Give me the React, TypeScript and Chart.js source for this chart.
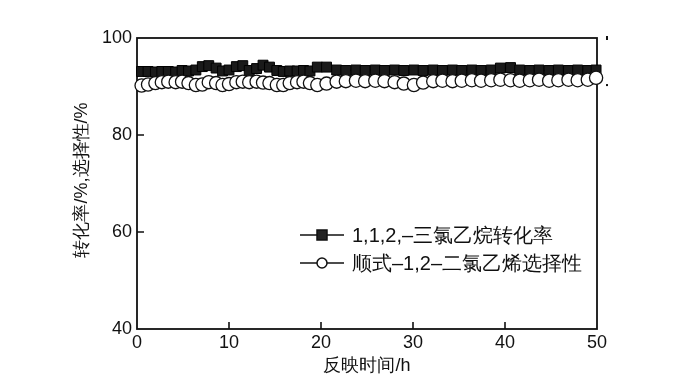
import React, { useEffect, useRef } from 'react';
import { Chart, registerables } from 'chart.js';

Chart.register(...registerables);

const times = [
  0.5, 1.2, 2.0, 2.7, 3.4, 4.2, 4.9, 5.6, 6.4, 7.1, 7.8, 8.6, 9.3, 10.0, 10.8, 11.5, 12.2, 13.0, 13.7, 14.4,
  15.2, 15.9, 16.6, 17.4, 18.1, 18.8, 19.6, 20.6, 21.7, 22.7, 23.8, 24.8, 25.9, 26.9, 28.0, 29.0, 30.1, 31.1,
  32.2, 33.2, 34.3, 35.3, 36.4, 37.4, 38.5, 39.5, 40.6, 41.6, 42.7, 43.7, 44.8, 45.8, 46.9, 47.9, 49.0, 49.9,
];

const conversion = [
  93.1, 93.1, 93.0, 93.1, 93.1, 93.0, 93.3, 93.2, 93.4, 94.1, 94.3, 93.8, 93.2, 93.4, 94.1, 94.3, 93.3, 93.7, 94.4, 94.0,
  93.3, 93.1, 93.2, 93.2, 93.3, 93.2, 94.0, 94.0, 93.4, 93.3, 93.4, 93.3, 93.4, 93.3, 93.4, 93.3, 93.4, 93.3,
  93.4, 93.3, 93.4, 93.3, 93.4, 93.3, 93.4, 93.8, 93.9, 93.4, 93.3, 93.4, 93.3, 93.4, 93.3, 93.4, 93.3, 93.4,
];

const selectivity = [
  90.2, 90.4, 90.7, 90.9, 91.0, 90.9, 91.0, 90.7, 90.3, 90.4, 90.9, 90.7, 90.3, 90.5, 90.9, 91.0, 90.9, 91.0, 90.8, 90.7,
  90.3, 90.3, 90.7, 90.9, 91.0, 90.7, 90.3, 90.6, 91.0, 91.1, 91.2, 91.1, 91.2, 91.1, 90.9, 90.6, 90.3, 90.8,
  91.1, 91.2, 91.1, 91.2, 91.3, 91.2, 91.3, 91.4, 91.3, 91.2, 91.3, 91.4, 91.2, 91.3, 91.4, 91.3, 91.4, 91.8,
];

const xTickValues = [0, 10, 20, 30, 40, 50];
const yTickValues = [40, 60, 80, 100];
const legendLabels = ['1,1,2,–三氯乙烷转化率', '顺式–1,2–二氯乙烯选择性'];
const xTitle = '反映时间/h';
const yTitle = '转化率/%,选择性/%';

const FONT = '"Liberation Sans", Arial, Helvetica, sans-serif';

const decorPlugin = {
  id: 'decor',
  beforeDatasetsDraw(chart: any) {
    const { ctx, chartArea } = chart;
    const { left, right, top, bottom } = chartArea;
    const xs = chart.scales.x;
    const ys = chart.scales.y;
    ctx.save();
    ctx.strokeStyle = '#111';
    ctx.lineWidth = 1.8;
    ctx.strokeRect(left, top, right - left, bottom - top);
    ctx.lineWidth = 1.6;
    const tl = 7;
    ctx.beginPath();
    xTickValues.slice(1, -1).forEach((v) => {
      const px = xs.getPixelForValue(v);
      ctx.moveTo(px, bottom);
      ctx.lineTo(px, bottom - tl);
    });
    yTickValues.slice(1, -1).forEach((v) => {
      const py = ys.getPixelForValue(v);
      ctx.moveTo(left, py);
      ctx.lineTo(left + tl, py);
    });
    ctx.stroke();
    // cropped fragments beyond the right edge
    ctx.fillStyle = '#111';
    ctx.fillRect(right + 9, top - 2, 2, 4);
    ctx.fillRect(right + 9, ys.getPixelForValue(90.5), 2, 2);
    ctx.restore();
  },
  afterDraw(chart: any) {
    const { ctx, chartArea } = chart;
    ctx.save();
    ctx.fillStyle = '#111';
    ctx.font = `18px ${FONT}`;
    ctx.textAlign = 'center';
    ctx.textBaseline = 'middle';
    ctx.fillText(xTitle, (chartArea.left + chartArea.right) / 2, 366);
    ctx.save();
    ctx.translate(82, 180);
    ctx.rotate(-Math.PI / 2);
    ctx.fillText(yTitle, 0, 0);
    ctx.restore();

    // legend
    const rows = [235, 263];
    const lx0 = 300;
    const lx1 = 344;
    const mx = 322;
    ctx.strokeStyle = '#111';
    ctx.lineWidth = 1.5;
    rows.forEach((y, i) => {
      ctx.beginPath();
      ctx.moveTo(lx0, y);
      ctx.lineTo(lx1, y);
      ctx.stroke();
      if (i === 0) {
        ctx.fillStyle = '#222';
        ctx.fillRect(mx - 5, y - 5, 10, 10);
        ctx.strokeRect(mx - 5, y - 5, 10, 10);
      } else {
        ctx.beginPath();
        ctx.arc(mx, y, 5, 0, Math.PI * 2);
        ctx.fillStyle = '#fff';
        ctx.fill();
        ctx.stroke();
      }
      ctx.fillStyle = '#111';
      ctx.font = `20px ${FONT}`;
      ctx.textAlign = 'left';
      ctx.textBaseline = 'middle';
      ctx.fillText(legendLabels[i], 352, y + 1);
    });
    ctx.restore();
  },
};

export default function App() {
  const ref = useRef<HTMLCanvasElement | null>(null);
  useEffect(() => {
    if (!ref.current) return;
    const chart = new Chart(ref.current, {
      type: 'line',
      data: {
        datasets: [
          {
            label: legendLabels[0],
            data: times.map((t, i) => ({ x: t, y: conversion[i] })),
            borderColor: '#111',
            borderWidth: 1,
            backgroundColor: '#1a1a1a',
            pointStyle: 'rect',
            pointRadius: 7,
            pointBorderWidth: 1,
            pointBorderColor: '#000',
            pointBackgroundColor: '#1a1a1a',
            clip: false,
            order: 2,
          },
          {
            label: legendLabels[1],
            data: times.map((t, i) => ({ x: t, y: selectivity[i] })),
            borderColor: '#111',
            borderWidth: 1,
            backgroundColor: '#fff',
            pointStyle: 'circle',
            pointRadius: 6.6,
            pointBorderWidth: 1.3,
            pointBorderColor: '#111',
            pointBackgroundColor: '#fff',
            clip: false,
            order: 1,
          },
        ],
      },
      options: {
        responsive: false,
        animation: false,
        devicePixelRatio: 1,
        events: [],
        layout: { padding: { left: 0, top: 38, right: 85, bottom: 0 } },
        plugins: { legend: { display: false }, tooltip: { enabled: false } },
        scales: {
          x: {
            type: 'linear',
            min: 0,
            max: 50,
            afterFit(scale: any) {
              scale.height = 56;
            },
            afterBuildTicks(scale: any) {
              scale.ticks = xTickValues.map((v) => ({ value: v }));
            },
            grid: { display: false, drawTicks: false },
            border: { display: false },
            ticks: { color: '#111', font: { family: FONT, size: 18 }, padding: 3, maxRotation: 0 },
          },
          y: {
            type: 'linear',
            min: 40,
            max: 100,
            afterFit(scale: any) {
              scale.width = 137;
            },
            afterBuildTicks(scale: any) {
              scale.ticks = yTickValues.map((v) => ({ value: v }));
            },
            grid: { display: false, drawTicks: false },
            border: { display: false },
            ticks: { color: '#111', font: { family: FONT, size: 18 }, padding: 5 },
          },
        },
      },
      plugins: [decorPlugin],
    });
    return () => chart.destroy();
  }, []);
  return (
    <div style={{ position: 'absolute', left: 0, top: 0, width: 682, height: 385, background: '#fff' }}>
      <canvas ref={ref} width={682} height={385} style={{ width: 682, height: 385, display: 'block' }} />
    </div>
  );
}
